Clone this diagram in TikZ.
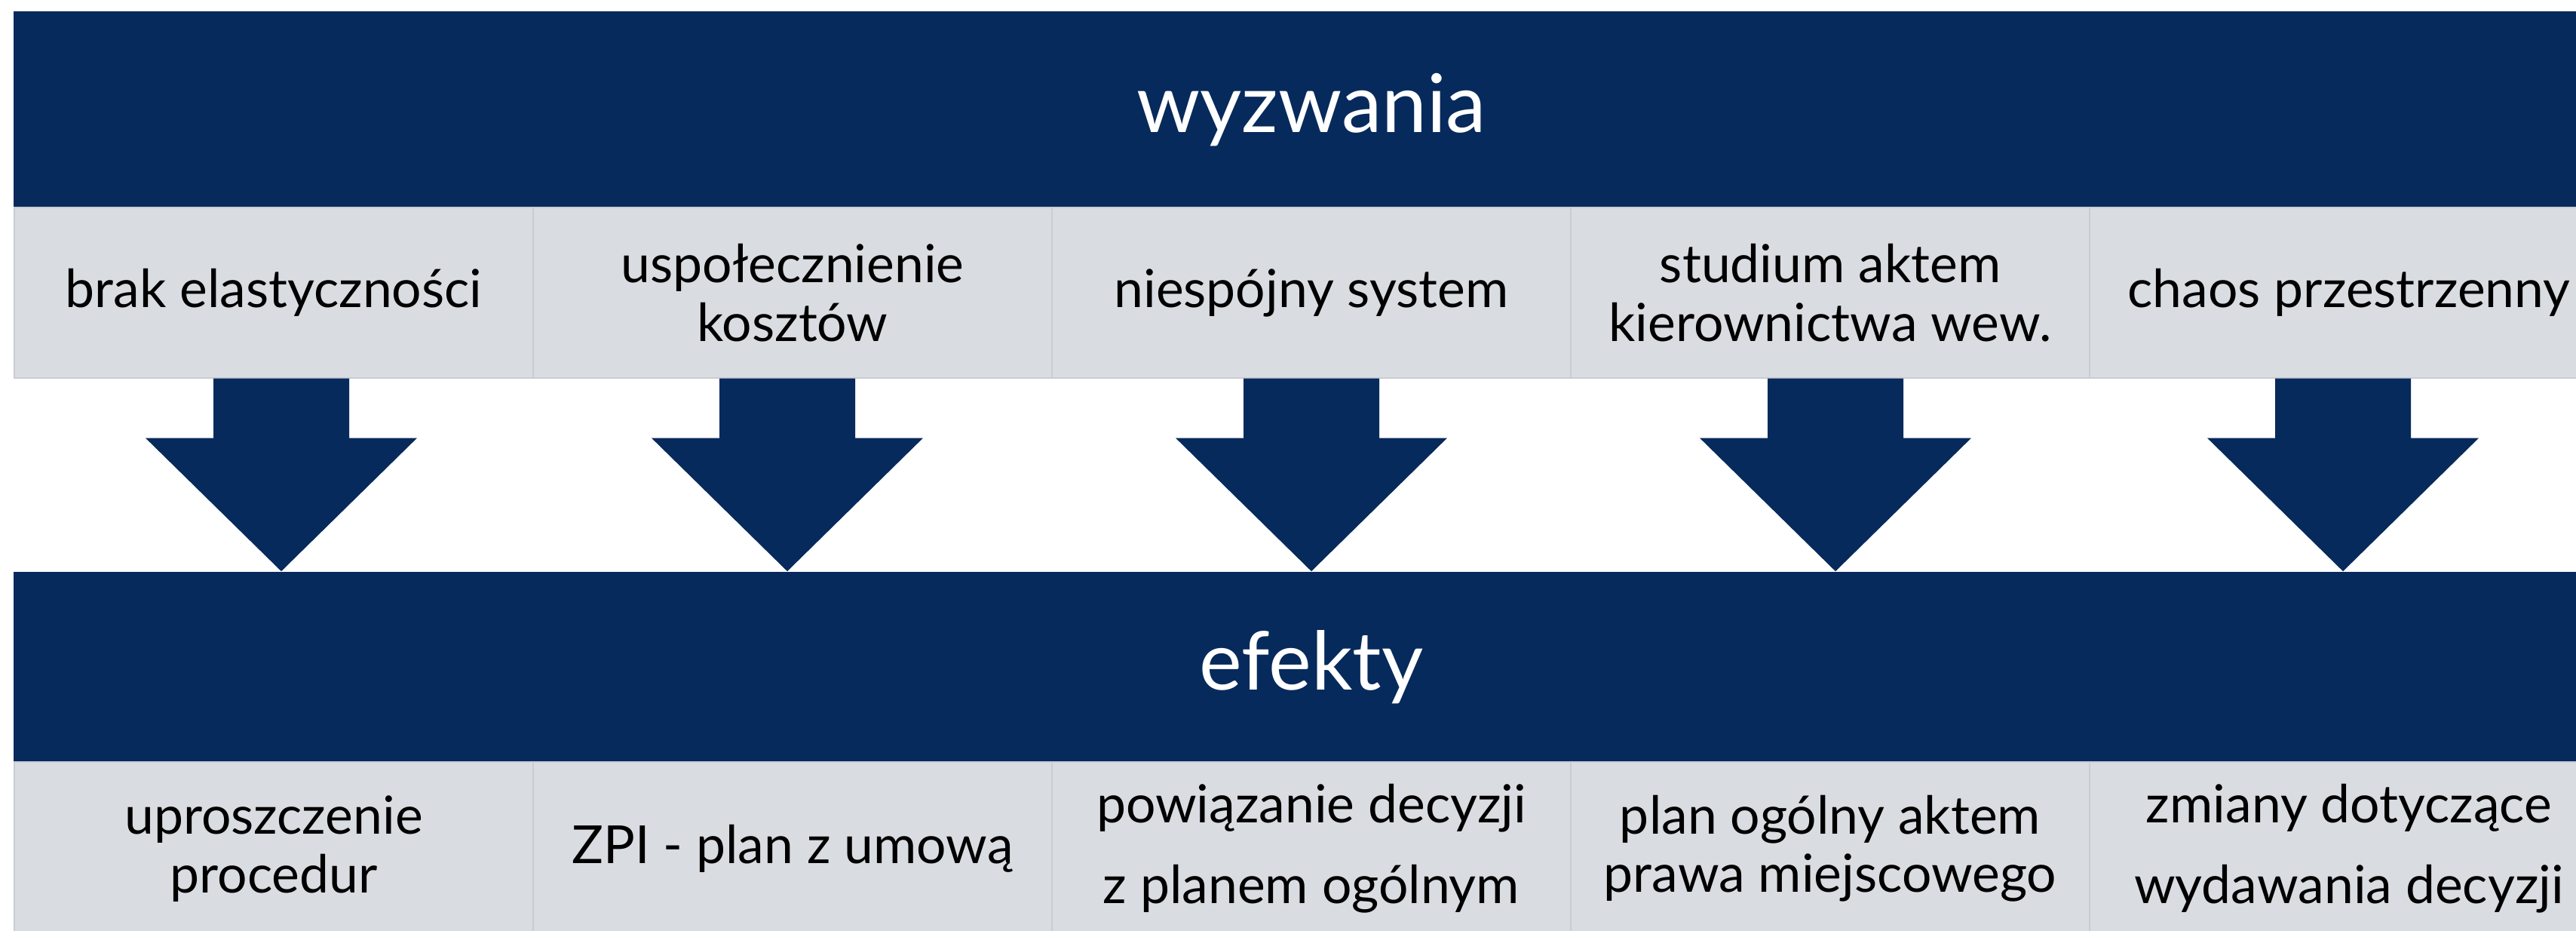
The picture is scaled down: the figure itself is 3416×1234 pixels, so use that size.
\documentclass[tikz,border=0pt]{standalone}
\usepackage{fontspec}
\setmainfont{Lato}
\usetikzlibrary{positioning,calc}
\definecolor{navy}{HTML}{072A5C}
\definecolor{cellgray}{HTML}{D9DCE1}
\definecolor{cellline}{HTML}{C9CCD2}
\begin{document}
\begin{tikzpicture}[x=0.01cm, y=-0.01cm,
		band/.style={fill=navy, text=white, minimum width=34.40cm, inner sep=0pt,
			font=\fontsize{30.5}{37}\selectfont},
		cell/.style={fill=cellgray, draw=cellline, line width=0.6pt, minimum width=6.88cm,
			minimum height=2.25cm, inner sep=0pt, align=center,
			font=\fontsize{19.8}{22}\selectfont}]
	\useasboundingbox (0,0) rectangle (3416,1234);
	\fill[white] (0,0) rectangle (3416,1234);
	\clip (0,0) rectangle (3416,1234);
	% challenges
	\node[band, minimum height=2.62cm] (wyz) at (1739,146) {wyzwania};
	\foreach \i/\t in {1/{brak elastyczności}, 2/{uspołecznienie\\kosztów},
			3/{niespójny system}, 4/{studium aktem\\kierownictwa wew.},
			5/{chaos przestrzenny}}
		\node[cell] (w\i) at ({363+688*(\i-1)},388) {\t};
	% effects
	\node[band, minimum height=2.52cm] (eff) at (1739,884) {efekty};
	\foreach \i/\t in {1/{uproszczenie\\procedur}, 2/{ZPI - plan z umową},
			3/{powiązanie decyzji\\[8.5pt]z planem ogólnym}, 4/{plan ogólny aktem\\prawa miejscowego},
			5/{zmiany dotyczące\\[8.5pt]wydawania decyzji}}
		\node[cell, minimum height=2.30cm] (e\i) at ({363+688*(\i-1)},1125) {\t};
	% arrows
	\foreach \i/\dx in {1/10, 2/-7, 3/0, 4/7, 5/-8}
		\fill[navy] ($(w\i.south)+(\dx-90,0)$) -- ($(w\i.south)+(\dx+90,0)$)
			-- ($(w\i.south)+(\dx+90,79)$) -- ($(w\i.south)+(\dx+180,79)$)
			-- ($(w\i.south |- eff.north)+(\dx,0)$)
			-- ($(w\i.south)+(\dx-180,79)$) -- ($(w\i.south)+(\dx-90,79)$) -- cycle;
\end{tikzpicture}
\end{document}
